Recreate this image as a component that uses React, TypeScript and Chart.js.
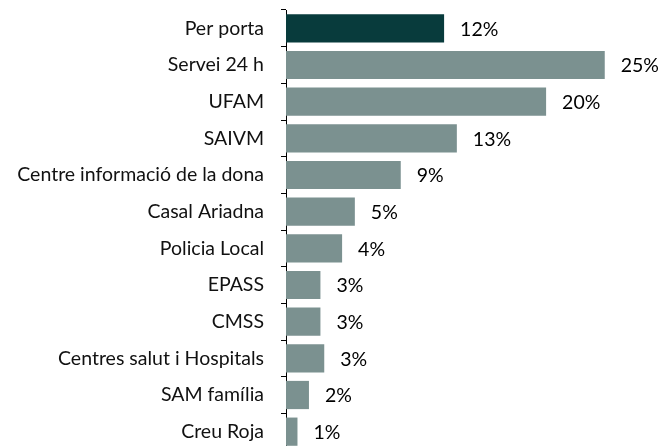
import React, { useEffect, useRef } from "react";
import { Chart, registerables } from "chart.js";

Chart.register(...registerables);

const categories = [
  "Per porta",
  "Servei 24 h",
  "UFAM",
  "SAIVM",
  "Centre informació de la dona",
  "Casal Ariadna",
  "Policia Local",
  "EPASS",
  "CMSS",
  "Centres salut i Hospitals",
  "SAM família",
  "Creu Roja",
];
const values = [12.4, 25.0, 20.4, 13.4, 9.0, 5.4, 4.4, 2.7, 2.7, 3.0, 1.8, 0.9];
const highlightIndex = 0;
const FONT = "Lato, 'Open Sans', sans-serif";
const FONT_SIZE = 19.5;

const valueLabels = {
  id: "valueLabels",
  afterDatasetsDraw(chart: any) {
    const ctx = chart.ctx;
    const meta = chart.getDatasetMeta(0);
    ctx.save();
    ctx.font = `${FONT_SIZE}px ${FONT}`;
    ctx.fillStyle = "#000";
    ctx.textAlign = "left";
    ctx.textBaseline = "middle";
    meta.data.forEach((bar: any, i: number) => {
      ctx.fillText(`${Math.round(values[i])}%`, bar.x + 16, bar.y + 1);
    });
    ctx.restore();
  },
};

export default function App() {
  const ref = useRef<HTMLCanvasElement>(null);
  useEffect(() => {
    if (!ref.current) return;
    const chart = new Chart(ref.current, {
      type: "bar",
      data: {
        labels: categories,
        datasets: [
          {
            data: values,
            backgroundColor: values.map((_, i) => (i === highlightIndex ? "#083b3c" : "#7b9190")),
            barPercentage: 0.77,
            categoryPercentage: 1,
          },
        ],
      },
      options: {
        indexAxis: "y",
        animation: false,
        responsive: false,
        maintainAspectRatio: false,
        layout: { padding: { top: 10, right: 16, bottom: 2, left: 0 } },
        plugins: { legend: { display: false }, tooltip: { enabled: false } },
        scales: {
          x: { display: false, min: 0, max: 28 },
          y: {
            afterFit(scale: any) {
              scale.width = 286;
              scale.paddingTop = 0;
              scale.paddingBottom = 0;
            },
            border: { display: true, color: "#000", width: 1 },
            grid: {
              drawOnChartArea: false,
              drawTicks: true,
              tickLength: 5,
              color: "#000",
              offset: true,
            },
            ticks: {
              color: "#111",
              padding: 17,
              font: { family: FONT, size: FONT_SIZE },
            },
          },
        },
      },
      plugins: [valueLabels],
    });
    return () => chart.destroy();
  }, []);
  return (
    <div style={{ position: "fixed", left: 0, top: 0, width: 659, height: 446, overflow: "hidden", background: "#fff" }}>
      <canvas ref={ref} width={659} height={452} style={{ width: 659, height: 452, display: "block" }} />
    </div>
  );
}
